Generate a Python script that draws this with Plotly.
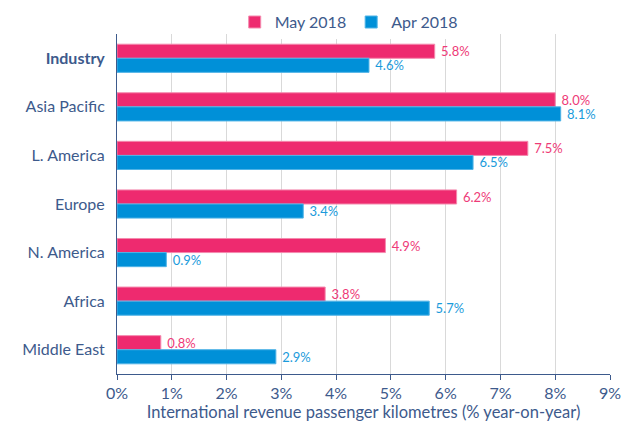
import plotly.graph_objects as go

categories = ["<b>Industry</b>", "Asia Pacific", "L. America", "Europe", "N. America", "Africa", "Middle East"]
may_2018 = [5.8, 8.0, 7.5, 6.2, 4.9, 3.8, 0.8]
apr_2018 = [4.6, 8.1, 6.5, 3.4, 0.9, 5.7, 2.9]
x_ticks = [0, 1, 2, 3, 4, 5, 6, 7, 8, 9]
x_tick_labels = [f"{v}%" for v in x_ticks]

PINK = "#EE2A6F"
BLUE = "#0090D8"
TEXT = "#3D5A8C"
FONT = "Lato, Open Sans, sans-serif"

fig = go.Figure()
fig.add_trace(go.Bar(
    y=categories, x=may_2018, orientation="h", name="May 2018",
    marker=dict(color=PINK, line=dict(color="#F48AAE", width=1)),
    text=[f" {v:.1f}%" for v in may_2018], textposition="outside",
    constraintext="none",
    textfont=dict(color="#EE3B78", size=13, family=FONT), cliponaxis=False,
))
fig.add_trace(go.Bar(
    y=categories, x=apr_2018, orientation="h", name="Apr 2018",
    marker=dict(color=BLUE, line=dict(color="#4FB3E6", width=1)),
    text=[f" {v:.1f}%" for v in apr_2018], textposition="outside",
    constraintext="none",
    textfont=dict(color="#1B9BDB", size=13, family=FONT), cliponaxis=False,
))

fig.update_layout(
    width=621, height=426,
    margin=dict(l=117, r=11, t=34, b=52, autoexpand=False),
    barmode="group", bargap=0.42, bargroupgap=0,
    plot_bgcolor="white", paper_bgcolor="white",
    font=dict(family=FONT, color=TEXT, size=15),
    legend=dict(orientation="h", x=0.47, xanchor="center", y=0.985, yanchor="bottom",
                font=dict(size=16, color=TEXT), itemwidth=30, traceorder="normal"),
    xaxis=dict(
        range=[0, 9], tickvals=x_ticks, ticktext=x_tick_labels,
        showgrid=True, gridcolor="#D9D9D9", gridwidth=1,
        showline=True, linecolor=TEXT, linewidth=1,
        ticks="outside", ticklen=5, tickcolor=TEXT,
        tickfont=dict(size=16, color=TEXT), ticklabeloverflow="allow",
        title=dict(text="International revenue passenger kilometres (% year-on-year)",
                   font=dict(size=16.5, color=TEXT), standoff=2),
        zeroline=False, automargin=False,
    ),
    yaxis=dict(
        autorange="reversed", showline=True, linecolor=TEXT, linewidth=1,
        tickfont=dict(size=16, color=TEXT), ticks="", ticklabelstandoff=8,
        automargin=False,
    ),
)

fig.write_html("out.html", config={"displayModeBar": False},
               post_script="document.body.style.margin='0';document.body.style.padding='0';")
